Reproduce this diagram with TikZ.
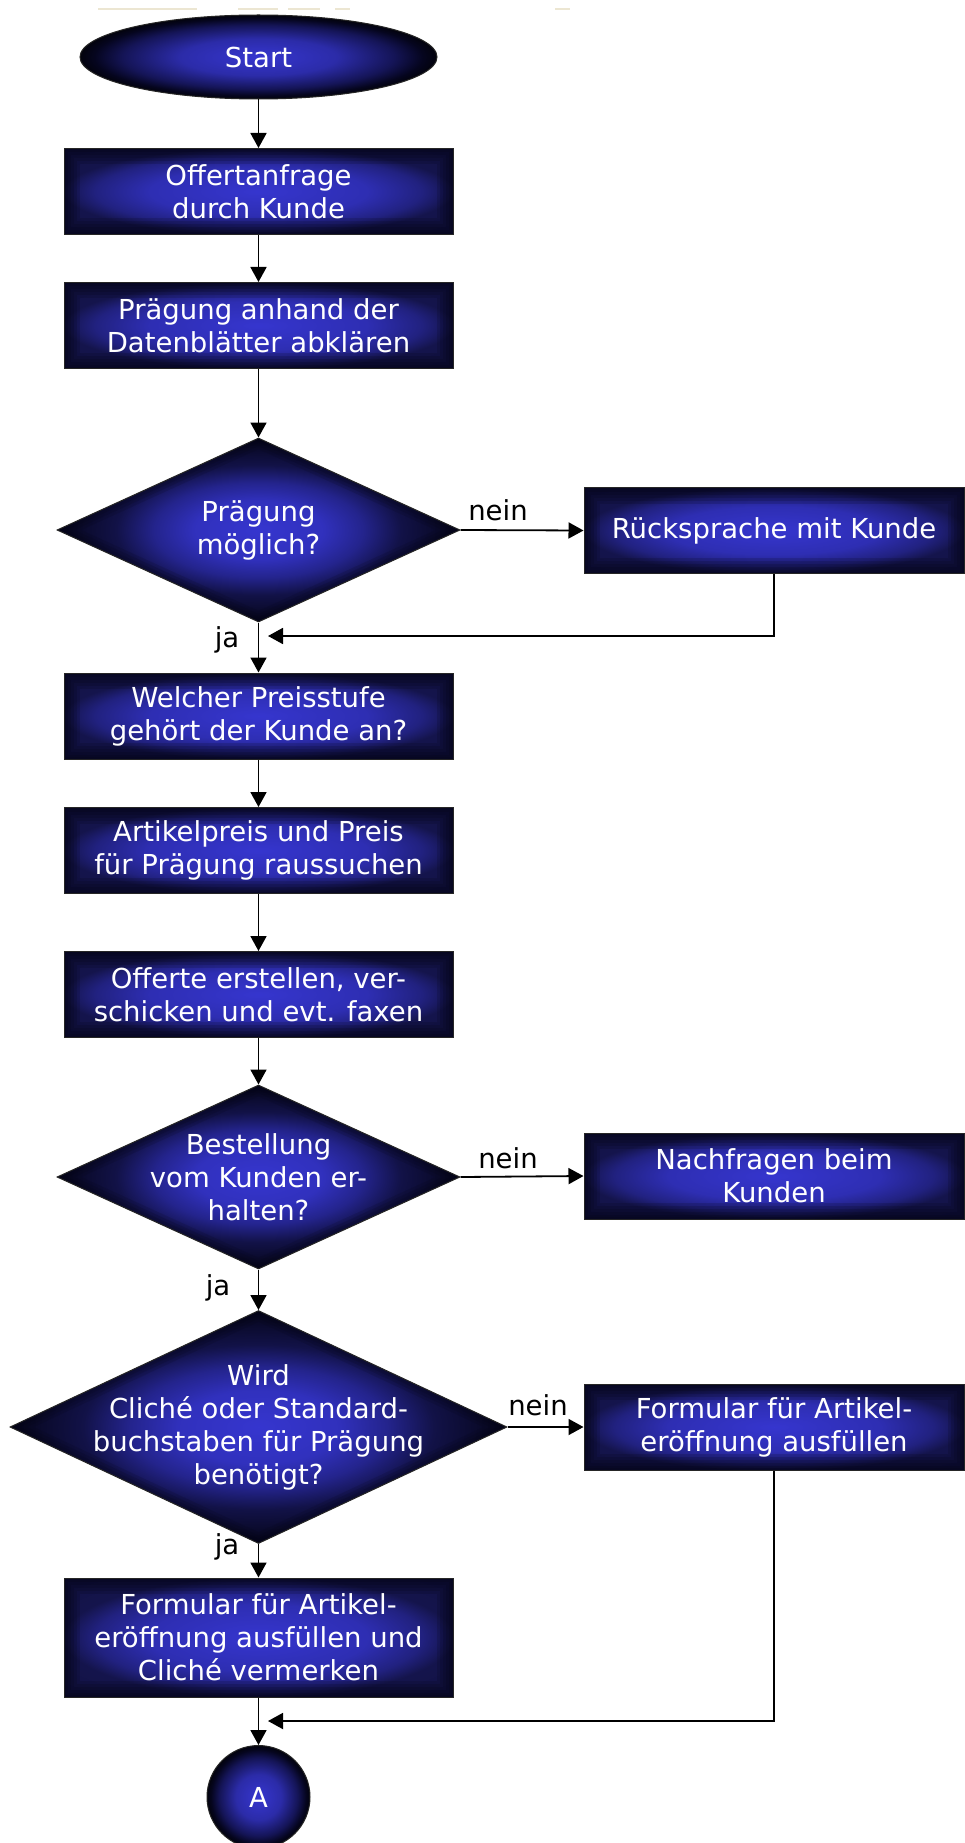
\documentclass[tikz,border=0pt]{standalone}
\usepackage{fontspec}
\setmainfont{DejaVu Sans}
\usetikzlibrary{shapes.geometric,arrows.meta}
\pgfdeclareradialshading{boxbase}{\pgfpoint{0bp}{0bp}}{rgb(0bp)=(0.21,0.21,0.81); rgb(14bp)=(0.18,0.18,0.70); rgb(21bp)=(0.13,0.13,0.50); rgb(25bp)=(0.08,0.08,0.30); rgb(50bp)=(0.05,0.05,0.2)}
\pgfdeclareradialshading{diabase}{\pgfpoint{0bp}{0bp}}{rgb(0bp)=(0.21,0.21,0.81); rgb(8bp)=(0.19,0.19,0.74); rgb(13bp)=(0.14,0.14,0.55); rgb(17.7bp)=(0.07,0.07,0.28); rgb(25bp)=(0.02,0.02,0.1); rgb(50bp)=(0.02,0.02,0.1)}
\pgfdeclareradialshading{ovalbase}{\pgfpoint{0bp}{0bp}}{rgb(0bp)=(0.21,0.21,0.81); rgb(11bp)=(0.17,0.17,0.66); rgb(19bp)=(0.08,0.08,0.34); rgb(23bp)=(0.02,0.02,0.12); rgb(25bp)=(0.01,0.01,0.05); rgb(50bp)=(0.01,0.01,0.05)}
\definecolor{deep}{rgb}{0.01,0.01,0.06}
\definecolor{topline}{RGB}{236,230,210}
\tikzset{
  txt/.style={text=white, font=\fontsize{27.5}{33}\selectfont, align=center},
  lbl/.style={text=black, font=\fontsize{27.5}{33}\selectfont, inner sep=0pt},
  procbox/.style={rectangle, txt, minimum width=389pt, minimum height=86pt, inner sep=0pt,
    shading=boxbase, draw=black!85, line width=1pt,
    path picture={\foreach \glw in {32,26,20,14,8,4}{
      \draw[line width=\glw pt, deep, opacity=0.15] (path picture bounding box.south west) rectangle (path picture bounding box.north east);}}},
  sidebox/.style={procbox, minimum width=380pt},
  decision/.style={diamond, shading=diabase, draw=black!85, line width=1pt, inner sep=0pt,
    path picture={\foreach \glw in {20,14,8}{
      \draw[line width=\glw pt, deep, opacity=0.12, line join=round] (path picture bounding box.west) -- (path picture bounding box.north) -- (path picture bounding box.east) -- (path picture bounding box.south) -- cycle;}}},
  terminal/.style={ellipse, txt, shading=ovalbase, draw=black!85, line width=1pt, inner sep=0pt},
  conn/.style={line width=1.8pt, draw=black, -{Triangle[length=15pt,width=16pt]}},
}
\begin{document}
\begin{tikzpicture}[x=1pt, y=-1pt]
\fill[white] (0,0) rectangle (965,1843);
\useasboundingbox (0,0) rectangle (965,1843);
% faint top lines
\foreach \a/\b in {98/197,238/278,288/320,335/350,555/570}{
  \draw[topline, line width=1.5pt] (\a,9) -- (\b,9);}

\node[terminal, minimum width=357pt, minimum height=84pt] (start) at (258.5,57) {Start};
\node[procbox] (b1) at (258.5,191.5) {Offertanfrage\\durch Kunde};
\node[procbox] (b2) at (258.5,325.5) {Prägung anhand der\\Datenblätter abklären};
\node[decision, minimum width=403pt, minimum height=184pt] (d1) at (258.5,530) {};
\node[txt] (d1t) at (d1.center) {Prägung\\möglich?};
\node[sidebox] (r1) at (774,530.5) {Rücksprache mit Kunde};
\node[procbox] (b3) at (258.5,716) {Welcher Preisstufe\\gehört der Kunde an?};
\node[procbox] (b4) at (258.5,850.5) {Artikelpreis und Preis\\für Prägung raussuchen};
\node[procbox] (b5) at (258.5,994.5) {Offerte erstellen, ver-\\schicken und evt. faxen};
\node[decision, minimum width=403pt, minimum height=184pt] (d2) at (258.5,1177) {};
\node[txt] (d2t) at (d2.center) {Bestellung\\vom Kunden er-\\halten?};
\node[sidebox] (r2) at (774,1176) {Nachfragen beim\\Kunden};
\node[decision, minimum width=497pt, minimum height=233pt] (d3) at (258.5,1427) {};
\node[txt] (d3t) at (d3.center) {Wird\\Cliché oder Standard-\\buchstaben für Prägung\\benötigt?};
\node[sidebox] (r3) at (774,1427) {Formular für Artikel-\\eröffnung ausfüllen};
\node[procbox, minimum height=119pt] (b6) at (258.5,1637.5) {Formular für Artikel-\\eröffnung ausfüllen und\\Cliché vermerken};
\node[terminal, circle, minimum size=103pt] (A) at (258.5,1797) {A};

% labels
\node[lbl] (n1) at (498,510) {nein};
\node[lbl] (ja1) at (227,640) {ja};
\node[lbl] (n2) at (508,1158) {nein};
\node[lbl] (ja2) at (218,1288) {ja};
\node[lbl] (n3) at (538,1405) {nein};
\node[lbl] (ja3) at (227,1547) {ja};

\coordinate (j1) at (268,636);
\coordinate (j2) at (268,1721);

% connectors
\draw[conn] (start.south) -- (b1.north);
\draw[conn] (b1.south) -- (b2.north);
\draw[conn] (b2.south) -- (d1.north);
\draw[conn] (d1.east) -- (r1.west);
\draw[conn] (r1.south) |- (j1);
\draw[conn] (d1.south) -- (b3.north);
\draw[conn] (b3.south) -- (b4.north);
\draw[conn] (b4.south) -- (b5.north);
\draw[conn] (b5.south) -- (d2.north);
\draw[conn] (d2.east) -- (r2.west);
\draw[conn] (d2.south) -- (d3.north);
\draw[conn] (d3.east) -- (r3.west);
\draw[conn] (d3.south) -- (b6.north);
\draw[conn] (b6.south) -- (A.north);
\draw[conn] (r3.south) |- (j2);
\end{tikzpicture}
\end{document}
